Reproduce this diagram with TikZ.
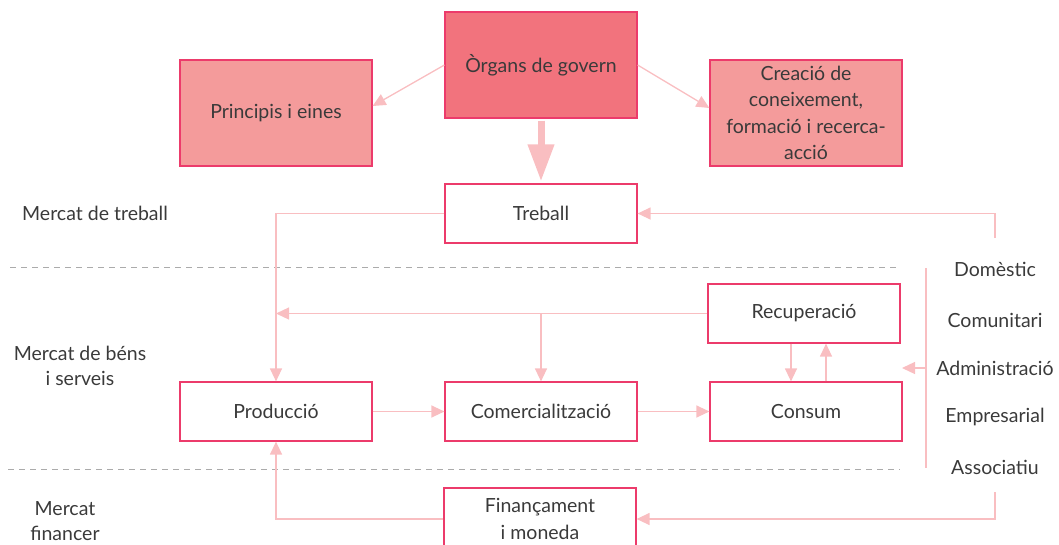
\documentclass[tikz,border=0pt]{standalone}
\usepackage{fontspec}
\setmainfont{Lato}
\usetikzlibrary{arrows.meta,positioning}

\definecolor{boxline}{HTML}{EC3B6B}
\definecolor{govfill}{HTML}{F2737D}
\definecolor{sidefill}{HTML}{F49B9B}
\definecolor{flow}{HTML}{F9BEC1}
\definecolor{txt}{HTML}{3A3A3A}
\definecolor{dashgray}{HTML}{ABABAB}

\begin{document}
\begin{tikzpicture}[x=1pt, y=-1pt,
  box/.style={draw=boxline, line width=1.2pt, fill=white, minimum width=192pt,
    minimum height=59pt, inner sep=0pt, align=center, text=txt,
    font=\fontsize{19.5}{26.5}\selectfont},
  bigbox/.style={box, minimum height=106pt},
  plain/.style={text=txt, align=center, inner sep=0pt, font=\fontsize{19.5}{25}\selectfont},
  flowline/.style={draw=flow, line width=1.3pt, -{Triangle[length=13pt,width=12pt]}},
  bigflow/.style={draw=flow, line width=7pt, -{Triangle[length=37pt,width=25pt]}},
  market/.style={draw=dashgray, line width=0.9pt, dash pattern=on 6pt off 5pt}]
  \useasboundingbox (0,0) rectangle (1059,544);

  % market separators
  \draw[market] (10,267) -- (900,267);
  \draw[market] (8,469) -- (900,469);

  % top boxes
  \node[bigbox, fill=govfill] (gov) at (541,65) {Òrgans de govern};
  \node[bigbox, fill=sidefill] (prin) at (276,113) {Principis i eines};
  \node[bigbox, fill=sidefill] (crea) at (806,113) {Creació de\\coneixement,\\formació i recerca-\\acció};

  % flow boxes
  \node[box] (treball) at (541,213.5) {Treball};
  \node[box] (recup) at (804,313.5) {Recuperació};
  \node[box] (prod) at (276,411.5) {Producció};
  \node[box] (comer) at (541,411.5) {Comercialització};
  \node[box] (consum) at (806,411.5) {Consum};
  \node[box, minimum height=62pt] (fin) at (540,519) {Finançament\\i moneda};

  % market labels
  \node[plain] (mtreball) at (95,213) {Mercat de treball};
  \node[plain] (mbens) at (80,366) {Mercat de béns\\i serveis};
  \node[plain] (mfin) at (65,521) {Mercat\\financer};

  % sectors
  \foreach \name/\ypos/\lab in {dom/269/Domèstic, com/320/Comunitari, adm/368/Administració,
      emp/417/Empresarial, ass/467/Associatiu}{
    \node[plain] (\name) at (995,\ypos) {\lab};
  }
  \coordinate (bartop) at (926,268);
  \coordinate (barbot) at (926,468);
  \draw[draw=flow, line width=1.3pt] (bartop) -- (barbot);
  \coordinate (barmid) at (926,368);
  \coordinate (gapend) at (902,368);
  \coordinate (topstart) at (995,238);
  \coordinate (botstart) at (995,492);

  % connectors
  \draw[flowline] (gov.west) -- ([yshift=7pt]prin.east);
  \draw[flowline] (gov.east) -- ([yshift=5pt]crea.west);
  \draw[bigflow, shorten <=2pt, shorten >=2pt] (gov.south) -- (treball.north);
  \draw[flowline] (treball.west) -| (prod.north);
  \draw[flowline] (topstart) |- (treball.east);
  \draw[flowline] (recup.west) -- (recup.west -| prod.north);
  \coordinate (branch) at (recup.west -| comer.north);
  \draw[flowline] (branch) -- (comer.north);
  \draw[flowline] ([xshift=-13pt]recup.south) -- ([xshift=-13pt]recup.south |- consum.north);
  \draw[flowline] ([xshift=20pt]consum.north) -- ([xshift=20pt]consum.north |- recup.south);
  \draw[flowline] (prod) -- (comer);
  \draw[flowline] (comer) -- (consum);
  \draw[flowline] (barmid) -- (gapend);
  \draw[flowline] (botstart) |- (fin.east);
  \draw[flowline] (fin.west) -| (prod.south);
\end{tikzpicture}
\end{document}
